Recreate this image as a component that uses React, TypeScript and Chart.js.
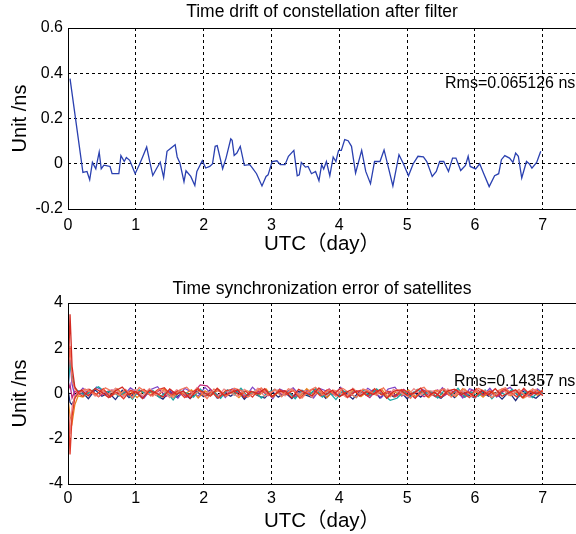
import React, { useEffect, useRef } from 'react';
import { Chart, registerables } from 'chart.js';
Chart.register(...registerables);

const FONT = "'Liberation Sans', Arial, 'Noto Sans CJK SC', sans-serif";

// ---------- Top panel: time drift of constellation ----------
const DRIFT_X = [0.03,0.22,0.28,0.32,0.36,0.41,0.46,0.49,0.53,0.58,0.62,0.65,0.75,0.78,0.83,0.86,0.91,0.99,1.05,1.10,1.16,1.21,1.25,1.31,1.36,1.41,1.46,1.52,1.58,1.61,1.65,1.71,1.74,1.81,1.87,1.90,1.98,2.03,2.09,2.13,2.17,2.20,2.28,2.33,2.40,2.42,2.45,2.49,2.54,2.60,2.68,2.72,2.78,2.86,2.92,2.95,3.01,3.08,3.13,3.20,3.25,3.33,3.38,3.41,3.44,3.50,3.54,3.59,3.65,3.70,3.74,3.77,3.81,3.86,3.91,3.95,3.97,3.99,4.03,4.08,4.13,4.18,4.24,4.33,4.39,4.46,4.52,4.60,4.66,4.72,4.79,4.88,4.94,5.02,5.09,5.16,5.24,5.29,5.37,5.43,5.48,5.54,5.61,5.67,5.72,5.79,5.86,5.90,5.93,6.01,6.07,6.13,6.21,6.29,6.35,6.39,6.44,6.51,6.56,6.60,6.64,6.69,6.76,6.80,6.84,6.91,6.97];
const DRIFT_Y = [0.376,-0.038,-0.034,-0.071,0.006,-0.022,0.052,-0.022,-0.006,-0.009,-0.012,-0.044,-0.044,0.036,0.010,0.028,0.015,-0.044,-0.006,0.030,0.074,0.003,-0.052,-0.019,0.007,-0.061,0.055,0.070,0.084,0.030,0.003,-0.079,-0.031,-0.056,-0.096,-0.034,0.013,-0.019,-0.012,-0.001,0.077,0.080,-0.022,0.025,0.110,0.104,0.037,0.047,0.077,-0.007,-0.004,-0.019,-0.044,-0.098,-0.056,-0.049,0.010,0.013,-0.004,-0.004,0.033,0.059,-0.053,-0.049,0.006,-0.015,-0.012,-0.044,-0.034,-0.075,-0.004,-0.023,0.010,-0.053,0.030,0.010,0.036,0.059,0.059,0.107,0.102,0.077,-0.041,0.059,-0.034,-0.088,0.010,0.010,0.061,-0.012,-0.098,0.040,0.003,-0.053,0.000,0.033,0.030,0.010,-0.056,-0.034,0.010,0.010,-0.034,0.025,0.025,-0.030,-0.007,0.033,-0.012,-0.023,0.000,-0.044,-0.101,-0.053,-0.044,0.018,0.036,0.025,0.006,0.047,0.033,-0.063,0.010,0.000,-0.019,0.006,0.055];

// ---------- Bottom panel: per-satellite synchronization error ----------
// three epoch grids (satellites were sampled at staggered epochs)
const SAT_X_A = [0,0.03,0.06,0.1,0.15,
  0.2,0.3,0.4,0.5,0.6,0.7,0.8,0.9,1.0,1.1,
  1.2,1.3,1.4,1.5,1.6,1.7,1.8,1.9,2.0,2.1,
  2.2,2.3,2.4,2.5,2.6,2.7,2.8,2.9,3.0,3.1,
  3.2,3.3,3.4,3.5,3.6,3.7,3.8,3.9,4.0,4.1,
  4.2,4.3,4.4,4.5,4.6,4.7,4.8,4.9,5.0,5.1,
  5.2,5.3,5.4,5.5,5.6,5.7,5.8,5.9,6.0,6.1,
  6.2,6.3,6.4,6.5,6.6,6.7,6.8,6.9,7.0];
const SAT_X_B = [0,0.03,0.06,0.1,0.15,
  0.25,0.35,0.45,0.55,0.65,0.75,0.85,0.95,1.05,1.15,
  1.25,1.35,1.45,1.55,1.65,1.75,1.85,1.95,2.05,2.15,
  2.25,2.35,2.45,2.55,2.65,2.75,2.85,2.95,3.05,3.15,
  3.25,3.35,3.45,3.55,3.65,3.75,3.85,3.95,4.05,4.15,
  4.25,4.35,4.45,4.55,4.65,4.75,4.85,4.95,5.05,5.15,
  5.25,5.35,5.45,5.55,5.65,5.75,5.85,5.95,6.05,6.15,
  6.25,6.35,6.45,6.55,6.65,6.75,6.85,6.95,7.0];
const SAT_X_C = [0,0.03,0.06,0.1,0.15,
  0.22,0.32,0.42,0.52,0.62,0.72,0.82,0.92,1.02,1.12,
  1.22,1.32,1.42,1.52,1.62,1.72,1.82,1.92,2.02,2.12,
  2.22,2.32,2.42,2.52,2.62,2.72,2.82,2.92,3.02,3.12,
  3.22,3.32,3.42,3.52,3.62,3.72,3.82,3.92,4.02,4.12,
  4.22,4.32,4.42,4.52,4.62,4.72,4.82,4.92,5.02,5.12,
  5.22,5.32,5.42,5.52,5.62,5.72,5.82,5.92,6.02,6.12,
  6.22,6.32,6.42,6.52,6.62,6.72,6.82,6.92,7.0];

const SAT_RED_A = [0.5,3.5,1.2,0.3,0.05,
  .15,-.10,.22,.05,-.18,.12,.28,-.06,.09,-.22,
  .14,.02,-.16,.20,-.04,.11,-.21,.17,.06,-.12,
  .23,-.08,.04,.16,-.18,.10,-.02,.21,-.14,.07,
  .12,-.19,.18,.03,-.10,.25,-.06,.14,-.15,.05,
  .20,-.12,.08,-.04,.17,-.21,.10,.16,-.08,.02,
  .24,-.14,.06,-.17,.12,.19,-.04,.08,-.16,.14,
  -.06,.21,-.12,.04,.16,-.19,.10,-.02,.12];
const SAT_RED_B = [-0.3,-2.7,-1.0,-0.2,0.0,
  -.12,.18,-.04,.21,-.16,.06,-.23,.14,.02,.19,
  -.10,.16,.25,-.08,.12,-.18,.04,.23,-.14,.08,
  -.20,.12,.18,-.06,.10,-.16,.21,.02,-.12,.17,
  -.04,.14,-.21,.08,.19,-.10,.16,-.02,.23,-.18,
  .06,.14,-.12,.21,-.06,.10,-.16,.18,.04,-.20,
  .12,.08,-.14,.19,-.08,.16,.02,-.18,.21,-.04,
  .10,-.12,.18,.06,-.16,.23,-.08,.14,-.10];
const SAT_SALMON = [0.8,2.1,0.6,0.2,0.05,
  .20,.04,-.14,.25,.10,-.08,.18,-.20,.27,.06,
  -.12,.21,.08,-.18,.16,.28,-.04,.12,-.23,.20,
  .06,-.10,.23,.14,-.16,.04,.25,-.08,.18,-.14,
  .21,.08,-.20,.12,.27,-.06,.16,-.12,.23,.02,
  -.18,.20,.10,-.08,.25,-.14,.18,.04,-.21,.16,
  .27,-.10,.12,.21,-.16,.06,.20,-.12,.23,.08,
  -.18,.14,.25,-.06,.18,-.14,.21,.04,.16];
const SAT_TEAL = [0.3,1.3,0.8,0.25,0.1,
  -.08,.12,.30,.06,.10,-.12,.10,-.25,.16,-.04,
  .14,-.18,.08,-.28,.12,.02,-.16,.20,-.10,.06,
  -.21,.16,-.06,.23,-.14,.10,-.20,.04,.18,-.12,
  .08,-.23,.14,-.08,.21,-.16,.06,-.27,.12,.02,
  -.18,.16,-.10,.20,-.06,-.30,-.21,.08,-.14,.18,
  -.04,.10,-.20,.14,-.08,.23,-.16,.06,-.12,.16,
  -.23,.10,-.06,.18,-.14,.08,-.18,.12,-.04];
const SAT_NAVY = [0.2,-0.4,-0.5,-0.2,0.1,
  .10,-.23,.16,-.12,.04,-.27,.14,-.18,.06,-.21,
  .12,-.08,-.25,.10,-.16,.04,-.23,.08,-.14,.18,
  -.20,.02,-.12,.14,-.25,.06,-.10,-.20,.12,-.16,
  .04,-.23,.10,-.06,-.18,.14,-.21,.08,-.12,.02,
  -.25,.12,-.08,.16,-.20,.04,-.14,.10,-.23,.06,
  -.16,.12,-.10,-.21,.08,-.18,.14,-.06,-.20,.10,
  -.12,.04,-.25,.08,-.32,.12,-.08,-.21,.06];
const SAT_PURPLE = [0.1,1.5,0.4,-0.1,0.0,
  .23,-.06,.28,.12,-.16,.20,-.10,.25,.04,-.20,
  .18,.30,-.08,.14,-.21,.23,.06,-.12,.27,-.04,
  .16,-.18,.21,.08,-.14,.28,-.02,.12,-.23,.20,
  .06,.25,-.10,.16,-.20,.21,.10,-.06,.27,-.16,
  .14,-.08,.23,.02,-.18,.20,.28,-.12,.08,-.21,
  .18,.04,-.14,.25,-.04,.16,-.20,.21,.10,-.10,
  .23,-.16,.12,.27,-.06,.18,-.14,.20,.02];
const SAT_ORANGE = [-0.2,-1.0,-1.3,-0.5,-0.1,
  -.16,.08,-.04,.18,-.12,.21,-.06,.10,-.18,.14,
  .04,-.10,.20,-.14,.08,-.02,.16,-.20,.12,-.06,
  .18,-.12,.06,-.18,.14,.02,-.08,.20,-.16,.10,
  -.04,.16,-.12,.21,-.06,.08,-.18,.14,.04,-.10,
  .18,-.14,.10,-.04,.20,-.16,.06,-.08,.16,-.12,
  .04,-.18,.14,-.06,.10,-.14,.21,-.02,.08,-.16,
  .12,-.04,.18,-.10,.06,-.20,.14,-.08,.10];
const SAT_PINK = [-0.5,-1.8,-0.6,-0.1,0.05,
  .06,.20,-.12,.14,-.04,.23,-.16,.08,.18,-.10,
  .21,-.06,.12,-.18,.16,.04,-.14,.25,-.08,.10,
  -.16,.20,.02,-.12,.18,-.06,.23,-.14,.08,.16,
  -.10,.21,-.04,.12,-.18,.20,-.08,.14,.06,-.16,
  .23,-.10,.16,-.02,.12,-.20,.18,.04,-.12,.21,
  -.06,.14,.08,-.16,.20,-.10,.12,.04,-.18,.16,
  .06,-.12,.21,-.08,.14,.02,-.16,.18,-.06];
const SAT_MAGENTA = [0.1,0.4,-0.2,0.1,0.0,
  -.04,.10,-.14,.06,.16,-.10,.04,-.18,.12,.02,
  -.08,.14,-.12,.06,.10,-.16,.04,.38,.34,.04,
  -.12,.08,-.06,.16,-.14,.04,.12,-.10,.18,-.04,
  .08,-.16,.14,-.02,.10,-.12,.20,-.08,.06,-.14,
  .12,.02,-.18,.16,-.06,.10,-.12,.18,-.04,.08,
  -.14,.06,.16,-.10,.12,-.02,-.16,.14,.04,-.08,
  .10,-.12,.18,-.06,.08,-.14,.12,-.04,.06];

const X_TICKS = [0, 1, 2, 3, 4, 5, 6, 7];
const DRIFT_Y_TICKS = [-0.2, 0, 0.2, 0.4, 0.6];
const SYNC_Y_TICKS = [-4, -2, 0, 2, 4];

const DRIFT_TITLE = 'Time drift of constellation after filter';
const SYNC_TITLE = 'Time synchronization error of satellites';
const DRIFT_RMS = 'Rms=0.065126 ns';
const SYNC_RMS = 'Rms=0.14357 ns';

const pts = (xs: number[], ys: number[]) => xs.map((x, i) => ({ x, y: ys[i] }));

const framePlugin = {
  id: 'frameAndNote',
  afterDraw(chart: any) {
    const { ctx, chartArea } = chart;
    const { left, top, right, bottom } = chartArea;
    ctx.save();
    ctx.strokeStyle = '#000';
    ctx.lineWidth = 1;
    ctx.setLineDash([]);
    ctx.beginPath();
    ctx.moveTo(right, Math.round(top) + 0.5);
    ctx.lineTo(Math.round(left) + 0.5, Math.round(top) + 0.5);
    ctx.lineTo(Math.round(left) + 0.5, Math.round(bottom) + 0.5);
    ctx.lineTo(right, Math.round(bottom) + 0.5);
    ctx.stroke();
    const note = chart.options.plugins.frameAndNote;
    if (note && note.text) {
      ctx.fillStyle = '#000';
      ctx.font = `16px ${FONT}`;
      ctx.textAlign = 'right';
      ctx.textBaseline = 'middle';
      const px = chart.scales.x.getPixelForValue(note.x);
      const py = chart.scales.y.getPixelForValue(note.y);
      ctx.fillText(note.text, px, py);
    }
    ctx.restore();
  },
};

function makeConfig(p: {
  datasets: any[];
  yMin: number; yMax: number; yTicks: number[];
  title: string; titlePad: { top: number; bottom: number };
  xHeight: number; xTickPad: number; xTitlePadBottom: number;
  note: { text: string; x: number; y: number };
}): any {
  return {
    type: 'line',
    data: { datasets: p.datasets },
    plugins: [framePlugin],
    options: {
      responsive: false,
      animation: false,
      events: [],
      layout: { padding: 0 },
      elements: { point: { radius: 0 }, line: { tension: 0 } },
      plugins: {
        legend: { display: false },
        tooltip: { enabled: false },
        title: {
          display: true,
          text: p.title,
          fullSize: false,
          color: '#000',
          font: { family: FONT, size: 17.5, weight: 'normal', lineHeight: 1.2 },
          padding: p.titlePad,
        },
        frameAndNote: p.note,
      },
      scales: {
        x: {
          type: 'linear',
          min: 0,
          max: 7.49,
          afterBuildTicks: (s: any) => { s.ticks = X_TICKS.map((v) => ({ value: v })); },
          afterFit: (s: any) => { s.height = p.xHeight; },
          ticks: {
            color: '#000',
            padding: p.xTickPad,
            maxRotation: 0,
            font: { family: FONT, size: 16 },
            callback: (v: any) => String(v),
          },
          grid: { color: '#000', lineWidth: 1, drawTicks: false },
          border: { display: false, dash: [3, 3] },
          title: {
            display: true,
            text: 'UTC（day）',
            color: '#000',
            font: { family: FONT, size: 20.5, lineHeight: 1.2 },
            padding: { top: 0, bottom: p.xTitlePadBottom },
          },
        },
        y: {
          type: 'linear',
          min: p.yMin,
          max: p.yMax,
          afterBuildTicks: (s: any) => { s.ticks = p.yTicks.map((v) => ({ value: v })); },
          afterFit: (s: any) => { s.width = 68; },
          ticks: {
            color: '#000',
            padding: 5,
            font: { family: FONT, size: 16 },
            callback: (v: any) => String(Math.round(v * 10) / 10),
          },
          grid: { color: '#000', lineWidth: 1, drawTicks: false },
          border: { display: false, dash: [3, 3] },
          title: {
            display: true,
            text: 'Unit /ns',
            color: '#000',
            font: { family: FONT, size: 20, lineHeight: 1.2 },
            padding: { top: 8, bottom: 0 },
          },
        },
      },
    },
  };
}

export default function App() {
  const topRef = useRef<HTMLCanvasElement>(null);
  const botRef = useRef<HTMLCanvasElement>(null);

  useEffect(() => {
    const driftSets = [
      { data: pts(DRIFT_X, DRIFT_Y), borderColor: '#2a40b0', borderWidth: 1.3, fill: false },
    ];
    const satDefs: [number[], number[], string][] = [
      [SAT_X_A, SAT_RED_A, '#d42a22'],
      [SAT_X_B, SAT_SALMON, '#f2785e'],
      [SAT_X_C, SAT_RED_B, '#e03a2a'],
      [SAT_X_A, SAT_PINK, '#ec8a8a'],
      [SAT_X_B, SAT_TEAL, '#1aa5a0'],
      [SAT_X_C, SAT_ORANGE, '#e8821e'],
      [SAT_X_B, SAT_MAGENTA, '#c02878'],
      [SAT_X_C, SAT_PURPLE, '#7e44c8'],
      [SAT_X_A, SAT_NAVY, '#1c2878'],
    ];
    const satSets = satDefs.map(([xs, ys, c]) => ({
      data: pts(xs, ys), borderColor: c, borderWidth: 1.3, fill: false,
    }));

    const c1 = new Chart(topRef.current as HTMLCanvasElement, makeConfig({
      datasets: driftSets,
      yMin: -0.2, yMax: 0.6, yTicks: DRIFT_Y_TICKS,
      title: DRIFT_TITLE, titlePad: { top: 2, bottom: 5 },
      xHeight: 58, xTickPad: 7, xTitlePadBottom: 10,
      note: { text: DRIFT_RMS, x: 7.48, y: 0.355 },
    }));
    const c2 = new Chart(botRef.current as HTMLCanvasElement, makeConfig({
      datasets: satSets,
      yMin: -4, yMax: 4, yTicks: SYNC_Y_TICKS,
      title: SYNC_TITLE, titlePad: { top: 12, bottom: 3 },
      xHeight: 50, xTickPad: 5, xTitlePadBottom: 0,
      note: { text: SYNC_RMS, x: 7.48, y: 0.53 },
    }));
    return () => { c1.destroy(); c2.destroy(); };
  }, []);

  return (
    <div style={{ position: 'absolute', left: 0, top: 0, width: 576, height: 534, overflow: 'hidden', background: '#fff' }}>
      <canvas ref={topRef} width={576} height={267} style={{ position: 'absolute', left: 0, top: 0 }} />
      <canvas ref={botRef} width={576} height={267} style={{ position: 'absolute', left: 0, top: 267 }} />
    </div>
  );
}
